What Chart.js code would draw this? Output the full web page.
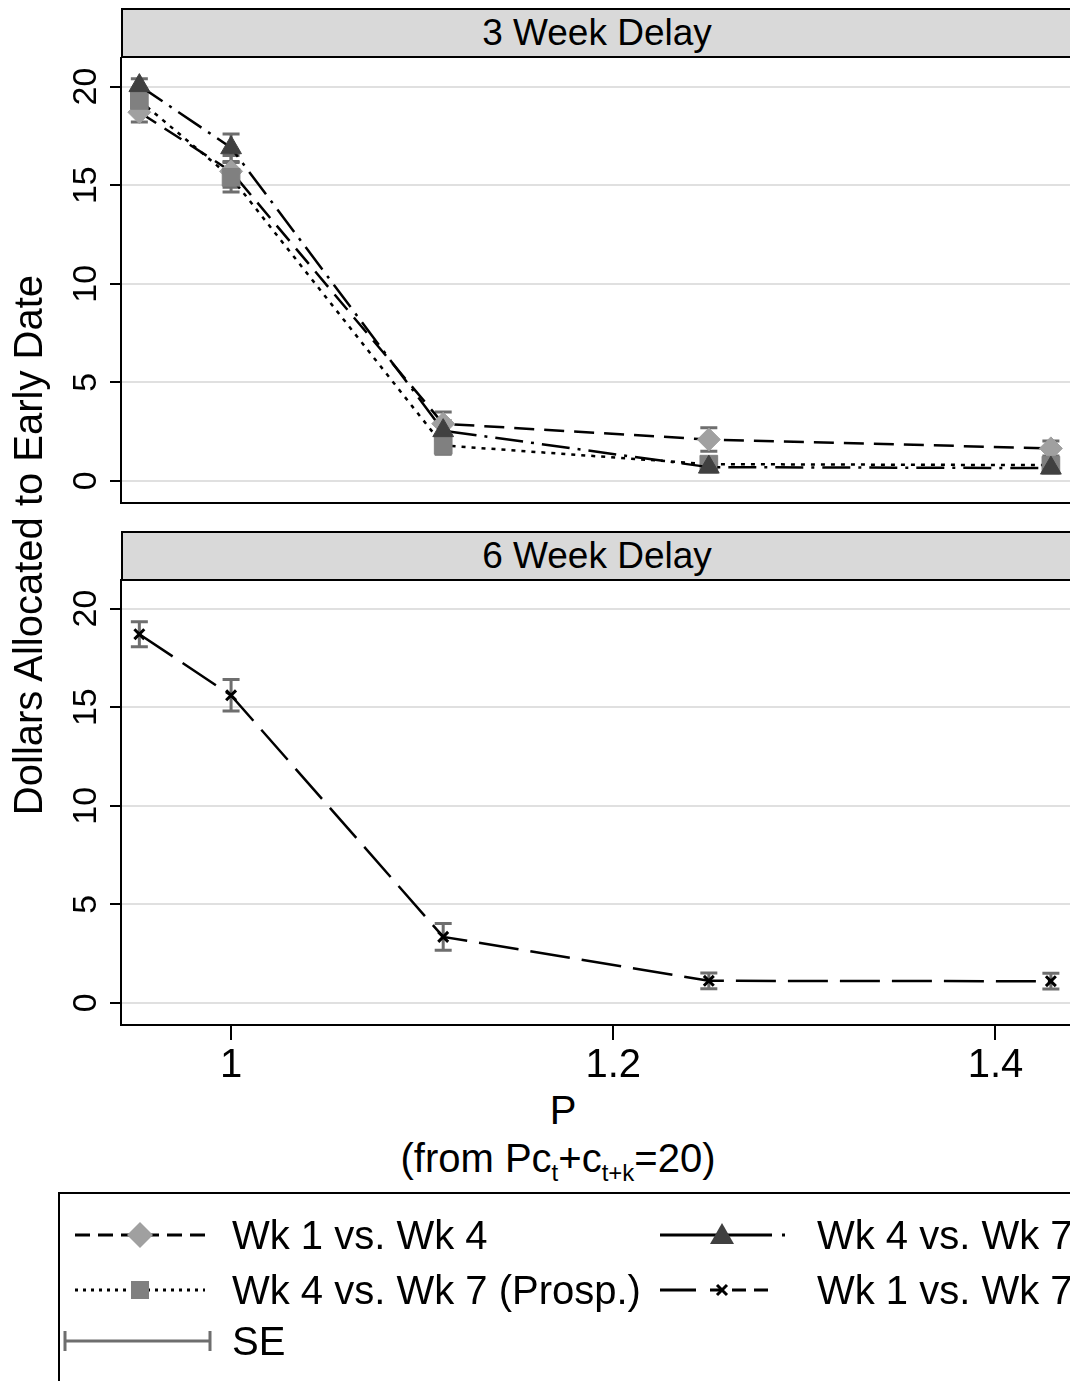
<!DOCTYPE html>
<html>
<head>
<meta charset="utf-8">
<script src="https://cdn.jsdelivr.net/npm/chart.js@4.4.1/dist/chart.umd.min.js"></script>
<style>
  body { margin: 0; background: #fff; }
  #fig { position: relative; width: 1070px; height: 1381px; overflow: hidden;
         font-family: "Liberation Sans", Arial, sans-serif; color: #000; }
  .strip { position: absolute; left: 121px; width: 1000px; height: 50px;
           background: #d9d9d9; border: 2px solid #000; box-sizing: border-box; }
  .lbl { position: absolute; white-space: nowrap; font-size: 40px; line-height: 44px; }
  .hd { font-size: 37px; line-height: 42px; }
  canvas { position: absolute; left: 0; }
  #legend { position: absolute; left: 58px; top: 1192px; width: 1100px; height: 260px;
            border: 2px solid #000; box-sizing: border-box; }
  sub { font-size: 24px; vertical-align: -9px; line-height: 0; }
</style>
</head>
<body>
<div id="fig">
  <div class="strip" style="top:8px"></div>
  <div class="lbl hd" style="left:397px;width:400px;text-align:center;top:12px">3 Week Delay</div>
  <div class="strip" style="top:531px"></div>
  <div class="lbl hd" style="left:397px;width:400px;text-align:center;top:535px">6 Week Delay</div>

  <canvas id="top" width="1070" height="510" style="top:0"></canvas>
  <canvas id="bottom" width="1070" height="540" style="top:540px"></canvas>

  <div class="lbl" style="left:-372px;top:523px;width:800px;text-align:center;transform:rotate(-90deg)">Dollars Allocated to Early Date</div>
  <div class="lbl" style="left:363px;width:400px;text-align:center;top:1088px">P</div>
  <div class="lbl" style="left:358px;width:400px;text-align:center;top:1136px">(from Pc<sub>t</sub>+c<sub>t+k</sub>=20)</div>

  <div id="legend"></div>
  <svg style="position:absolute;left:0;top:0" width="1070" height="1381">
    <!-- ligne 1, col 1 : tirets + losange -->
    <line x1="75" y1="1235" x2="205" y2="1235" stroke="#000" stroke-width="3" stroke-dasharray="15 8"/>
    <polygon points="140,1222 153,1235 140,1248 127,1235" fill="#a0a0a0"/>
    <!-- ligne 1, col 2 : tiret long-point + triangle -->
    <line x1="660" y1="1235" x2="790" y2="1235" stroke="#000" stroke-width="3" stroke-dasharray="112 10 3 20"/>
    <polygon points="722,1223 734,1244 710,1244" fill="#404040"/>
    <!-- ligne 2, col 1 : pointillés + carré -->
    <line x1="75" y1="1290" x2="205" y2="1290" stroke="#000" stroke-width="3" stroke-dasharray="3 5"/>
    <rect x="131" y="1281" width="18" height="18" fill="#808080"/>
    <!-- ligne 2, col 2 : tiret long, tirets courts + x -->
    <line x1="660" y1="1290" x2="790" y2="1290" stroke="#000" stroke-width="3" stroke-dasharray="36 14 14 8 14 8 14"/>
    <path d="M717,1285 L727,1295 M727,1285 L717,1295" stroke="#000" stroke-width="3"/>
    <!-- ligne 3 : SE -->
    <path d="M65,1341 L210,1341 M65,1331 L65,1351 M210,1331 L210,1351" stroke="#6e6e6e" stroke-width="3" fill="none"/>
  </svg>
  <div class="lbl" style="left:232px;top:1213px">Wk 1 vs. Wk 4</div>
  <div class="lbl" style="left:817px;top:1213px">Wk 4 vs. Wk 7</div>
  <div class="lbl" style="left:232px;top:1268px">Wk 4 vs. Wk 7 (Prosp.)</div>
  <div class="lbl" style="left:817px;top:1268px">Wk 1 vs. Wk 7</div>
  <div class="lbl" style="left:232px;top:1319px">SE</div>
</div>

<script>
// Valeurs
const P = [0.952, 1, 1.111, 1.25, 1.429];
const yTicks = [0, 5, 10, 15, 20];
const xTicks = [1, 1.2, 1.4];

// 3 semaines
const wk1wk4   = [18.7, 15.7, 2.9, 2.1, 1.65];
const wk1wk4SE = [0.5, 0.8, 0.6, 0.6, 0.38];
const wk4wk7   = [20.05, 16.9, 2.55, 0.7, 0.65];
const wk4wk7SE = [0.35, 0.7, 0.5, 0.2, 0.2];
const prosp    = [19.3, 15.4, 1.8, 0.85, 0.8];
const prospSE  = [0.5, 0.75, 0.45, 0.25, 0.25];

// 6 semaines
const wk1wk7   = [18.7, 15.6, 3.35, 1.12, 1.1];
const wk1wk7SE = [0.63, 0.8, 0.68, 0.4, 0.4];

const FONT = '"Liberation Sans", Arial, sans-serif';
const pts = arr => arr.map((v, i) => ({ x: P[i], y: v }));

// barres d'erreur (SE), dessinées sous les marqueurs
const errorBars = {
  id: 'errorBars',
  beforeDatasetsDraw(chart) {
    const { ctx, scales: { x, y } } = chart;
    ctx.save();
    ctx.strokeStyle = '#6e6e6e';
    ctx.lineWidth = 3;
    chart.data.datasets.forEach(ds => {
      ds.data.forEach((pt, i) => {
        const px = x.getPixelForValue(pt.x);
        const top = y.getPixelForValue(pt.y + ds.se[i]);
        const bot = y.getPixelForValue(pt.y - ds.se[i]);
        ctx.beginPath();
        ctx.moveTo(px, top); ctx.lineTo(px, bot);
        ctx.moveTo(px - 8.5, top); ctx.lineTo(px + 8.5, top);
        ctx.moveTo(px - 8.5, bot); ctx.lineTo(px + 8.5, bot);
        ctx.stroke();
      });
    });
    ctx.restore();
  }
};

// étiquettes de l'axe Y tournées (style Stata)
const yLabels = {
  id: 'yLabels',
  afterDraw(chart) {
    const { ctx, scales: { y } } = chart;
    ctx.save();
    ctx.font = '34px ' + FONT;
    ctx.fillStyle = '#000';
    ctx.textAlign = 'center';
    ctx.textBaseline = 'alphabetic';
    yTicks.forEach(v => {
      ctx.save();
      ctx.translate(96, y.getPixelForValue(v));
      ctx.rotate(-Math.PI / 2);
      ctx.fillText(String(v), 0, 0);
      ctx.restore();
    });
    ctx.restore();
  }
};

function panneau(id, datasets, avecX, hauteurX, padTop) {
  return new Chart(document.getElementById(id), {
    type: 'line',
    data: { datasets },
    plugins: [errorBars, yLabels],
    options: {
      responsive: false,
      animation: false,
      devicePixelRatio: 1,
      layout: { autoPadding: false, padding: { top: padTop, left: 0, right: 0, bottom: 0 } },
      plugins: { legend: { display: false }, tooltip: { enabled: false } },
      scales: {
        x: {
          type: 'linear',
          min: 0.9424, max: 1.439,
          afterBuildTicks: s => { s.ticks = xTicks.map(v => ({ value: v })); },
          afterFit: s => { s.height = hauteurX; s.paddingLeft = 0; s.paddingRight = 0; },
          grid: { display: avecX, drawOnChartArea: false, tickLength: 15, tickColor: '#000', lineWidth: 2 },
          border: { display: true, color: '#000', width: 2 },
          ticks: {
            display: avecX, color: '#000', padding: 2, maxRotation: 0,
            font: { family: FONT, size: 40 },
            callback: v => String(v)
          }
        },
        y: {
          min: -1.12, max: 21.45,
          afterBuildTicks: s => { s.ticks = yTicks.map(v => ({ value: v })); },
          afterFit: s => { s.width = 121; s.paddingTop = 0; s.paddingBottom = 0; },
          grid: { color: '#e0e0e0', lineWidth: 2, tickColor: '#000', tickLength: 11 },
          border: { display: true, color: '#000', width: 2 },
          ticks: { display: false }
        }
      }
    }
  });
}

const ligne = (data, se, dash, style, radius, color, order) => ({
  data: pts(data), se,
  borderColor: '#000', borderWidth: 2.5, borderDash: dash,
  pointStyle: style, pointRadius: radius,
  pointBackgroundColor: color, pointBorderColor: color, pointBorderWidth: 1,
  tension: 0, order
});

panneau('top', [
  ligne(wk1wk4, wk1wk4SE, [20, 10], 'rectRot', 11.5, '#a0a0a0', 2),
  ligne(prosp, prospSE, [4, 6], 'rect', 12.5, '#808080', 1),
  ligne(wk4wk7, wk4wk7SE, [28, 8, 3, 8], 'triangle', 12, '#404040', 0)
], false, 7, 58);

panneau('bottom', [
  Object.assign(ligne(wk1wk7, wk1wk7SE, [40, 12], 'crossRot', 7, '#000', 0),
    { pointBorderWidth: 3 })
], true, 55, 40);
</script>
</body>
</html>
